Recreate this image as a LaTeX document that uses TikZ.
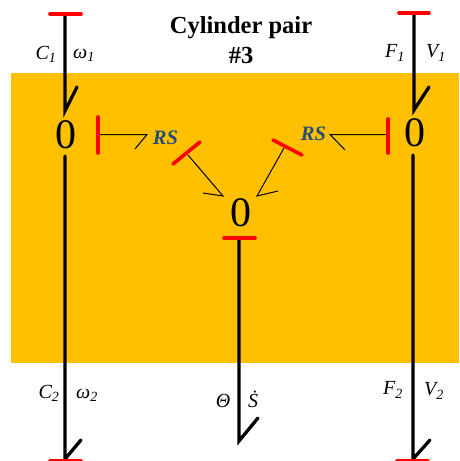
\documentclass[tikz,border=0pt]{standalone}
\usepackage{fontspec}
\setmainfont{Liberation Serif}
\tikzset{
  x=1pt,y=-1pt,
  bond/.style={line width=3.3pt,black,line cap=round},
  thinbond/.style={line width=1pt,black},
  stroke/.style={line width=3.6pt,red,line cap=round},
  zero/.style={font=\fontsize{42}{42}\selectfont,inner sep=0pt},
  lab/.style={font=\fontsize{20}{20}\selectfont\itshape,inner sep=0pt},
  rs/.style={font=\fontsize{20.5}{20.5}\selectfont\bfseries\itshape,text=rsblue,inner sep=0pt},
  ttl/.style={font=\fontsize{24.5}{24.5}\selectfont\bfseries,inner sep=0pt},
}
\definecolor{band}{RGB}{255,192,0}
\definecolor{rsblue}{RGB}{38,76,120}
\begin{document}
\begin{tikzpicture}
\useasboundingbox (0,0) rectangle (459,461);
\clip (0,0) rectangle (459,461);
\fill[band] (11,73) rectangle (459,363);
\node[ttl] (t1) at (241,28) {Cylinder pair};
\node[ttl] (t2) at (241,56) {\#3};
\node[zero] (zl) at (65.5,135) {0};
\node[zero] (zr) at (415,133) {0};
\node[zero] (zm) at (241,213) {0};
\node[rs] (rsl) at (165.5,138) {RS};
\node[rs] (rsr) at (313.5,134) {RS};
\node[lab] (c1) at (46,54) {C\textsubscript{1}};
\node[lab] (w1) at (84,55) {ω\textsubscript{1}};
\node[lab] (f1) at (395,53) {F\textsubscript{1}};
\node[lab] (v1) at (436,53) {V\textsubscript{1}};
\node[lab] (c2) at (49,393) {C\textsubscript{2}};
\node[lab] (w2) at (87,395) {ω\textsubscript{2}};
\node[lab] (f2) at (393,390) {F\textsubscript{2}};
\node[lab] (v2) at (434,391) {V\textsubscript{2}};
\node[lab] (th) at (223,401) {Θ};
\node[lab] (sd) at (253,399) {Ṡ};
% end points
\coordinate (tl) at (65,14);
\coordinate (tr) at (414,13);
\coordinate (bl) at (65,459);
\coordinate (br) at (413,459);
\coordinate (bm) at (239,441);
\coordinate (ml) at (239,238);
\coordinate (al) at (65,111);
\coordinate (ar) at (414,110);
\coordinate (ll) at (65,156);
\coordinate (lr) at (413,155);
% power bonds
\draw[bond] (tl) -- (al) -- (77,87);
\draw[bond] (ll) -- (bl) -- (81,440);
\draw[bond] (tr) -- (ar) -- (429,87);
\draw[bond] (lr) -- (br) -- (430,440);
\draw[bond] (ml) -- (bm) -- (258,418);
% thin bonds
\coordinate (sl) at (98,134.5);
\coordinate (sr) at (388,134.5);
\coordinate (sa) at (188,155);
\coordinate (sb) at (284,148);
\coordinate (hl) at (147,134.5);
\coordinate (hr) at (330,134.5);
\coordinate (ha) at (223,196);
\coordinate (hb) at (257,196);
\draw[thinbond] (sl) -- (hl) -- (135,149);
\draw[thinbond] (sr) -- (hr) -- (345,150);
\draw[thinbond] (sa) -- (ha) -- (203,193);
\draw[thinbond] (sb) -- (hb) -- (278,191);
% causal strokes
\draw[stroke] (50,14) -- (81,14);
\draw[stroke] (399,13) -- (429,13);
\draw[stroke] (50,460.5) -- (81,460.5);
\draw[stroke] (397,460.5) -- (428,460.5);
\draw[stroke] (224,238) -- (255,238);
\draw[stroke] (98,117) -- (98,153);
\draw[stroke] (388,119) -- (388,153);
\draw[stroke] (173,164) -- (200,142);
\draw[stroke] (273,140) -- (302,155);
\end{tikzpicture}
\end{document}
